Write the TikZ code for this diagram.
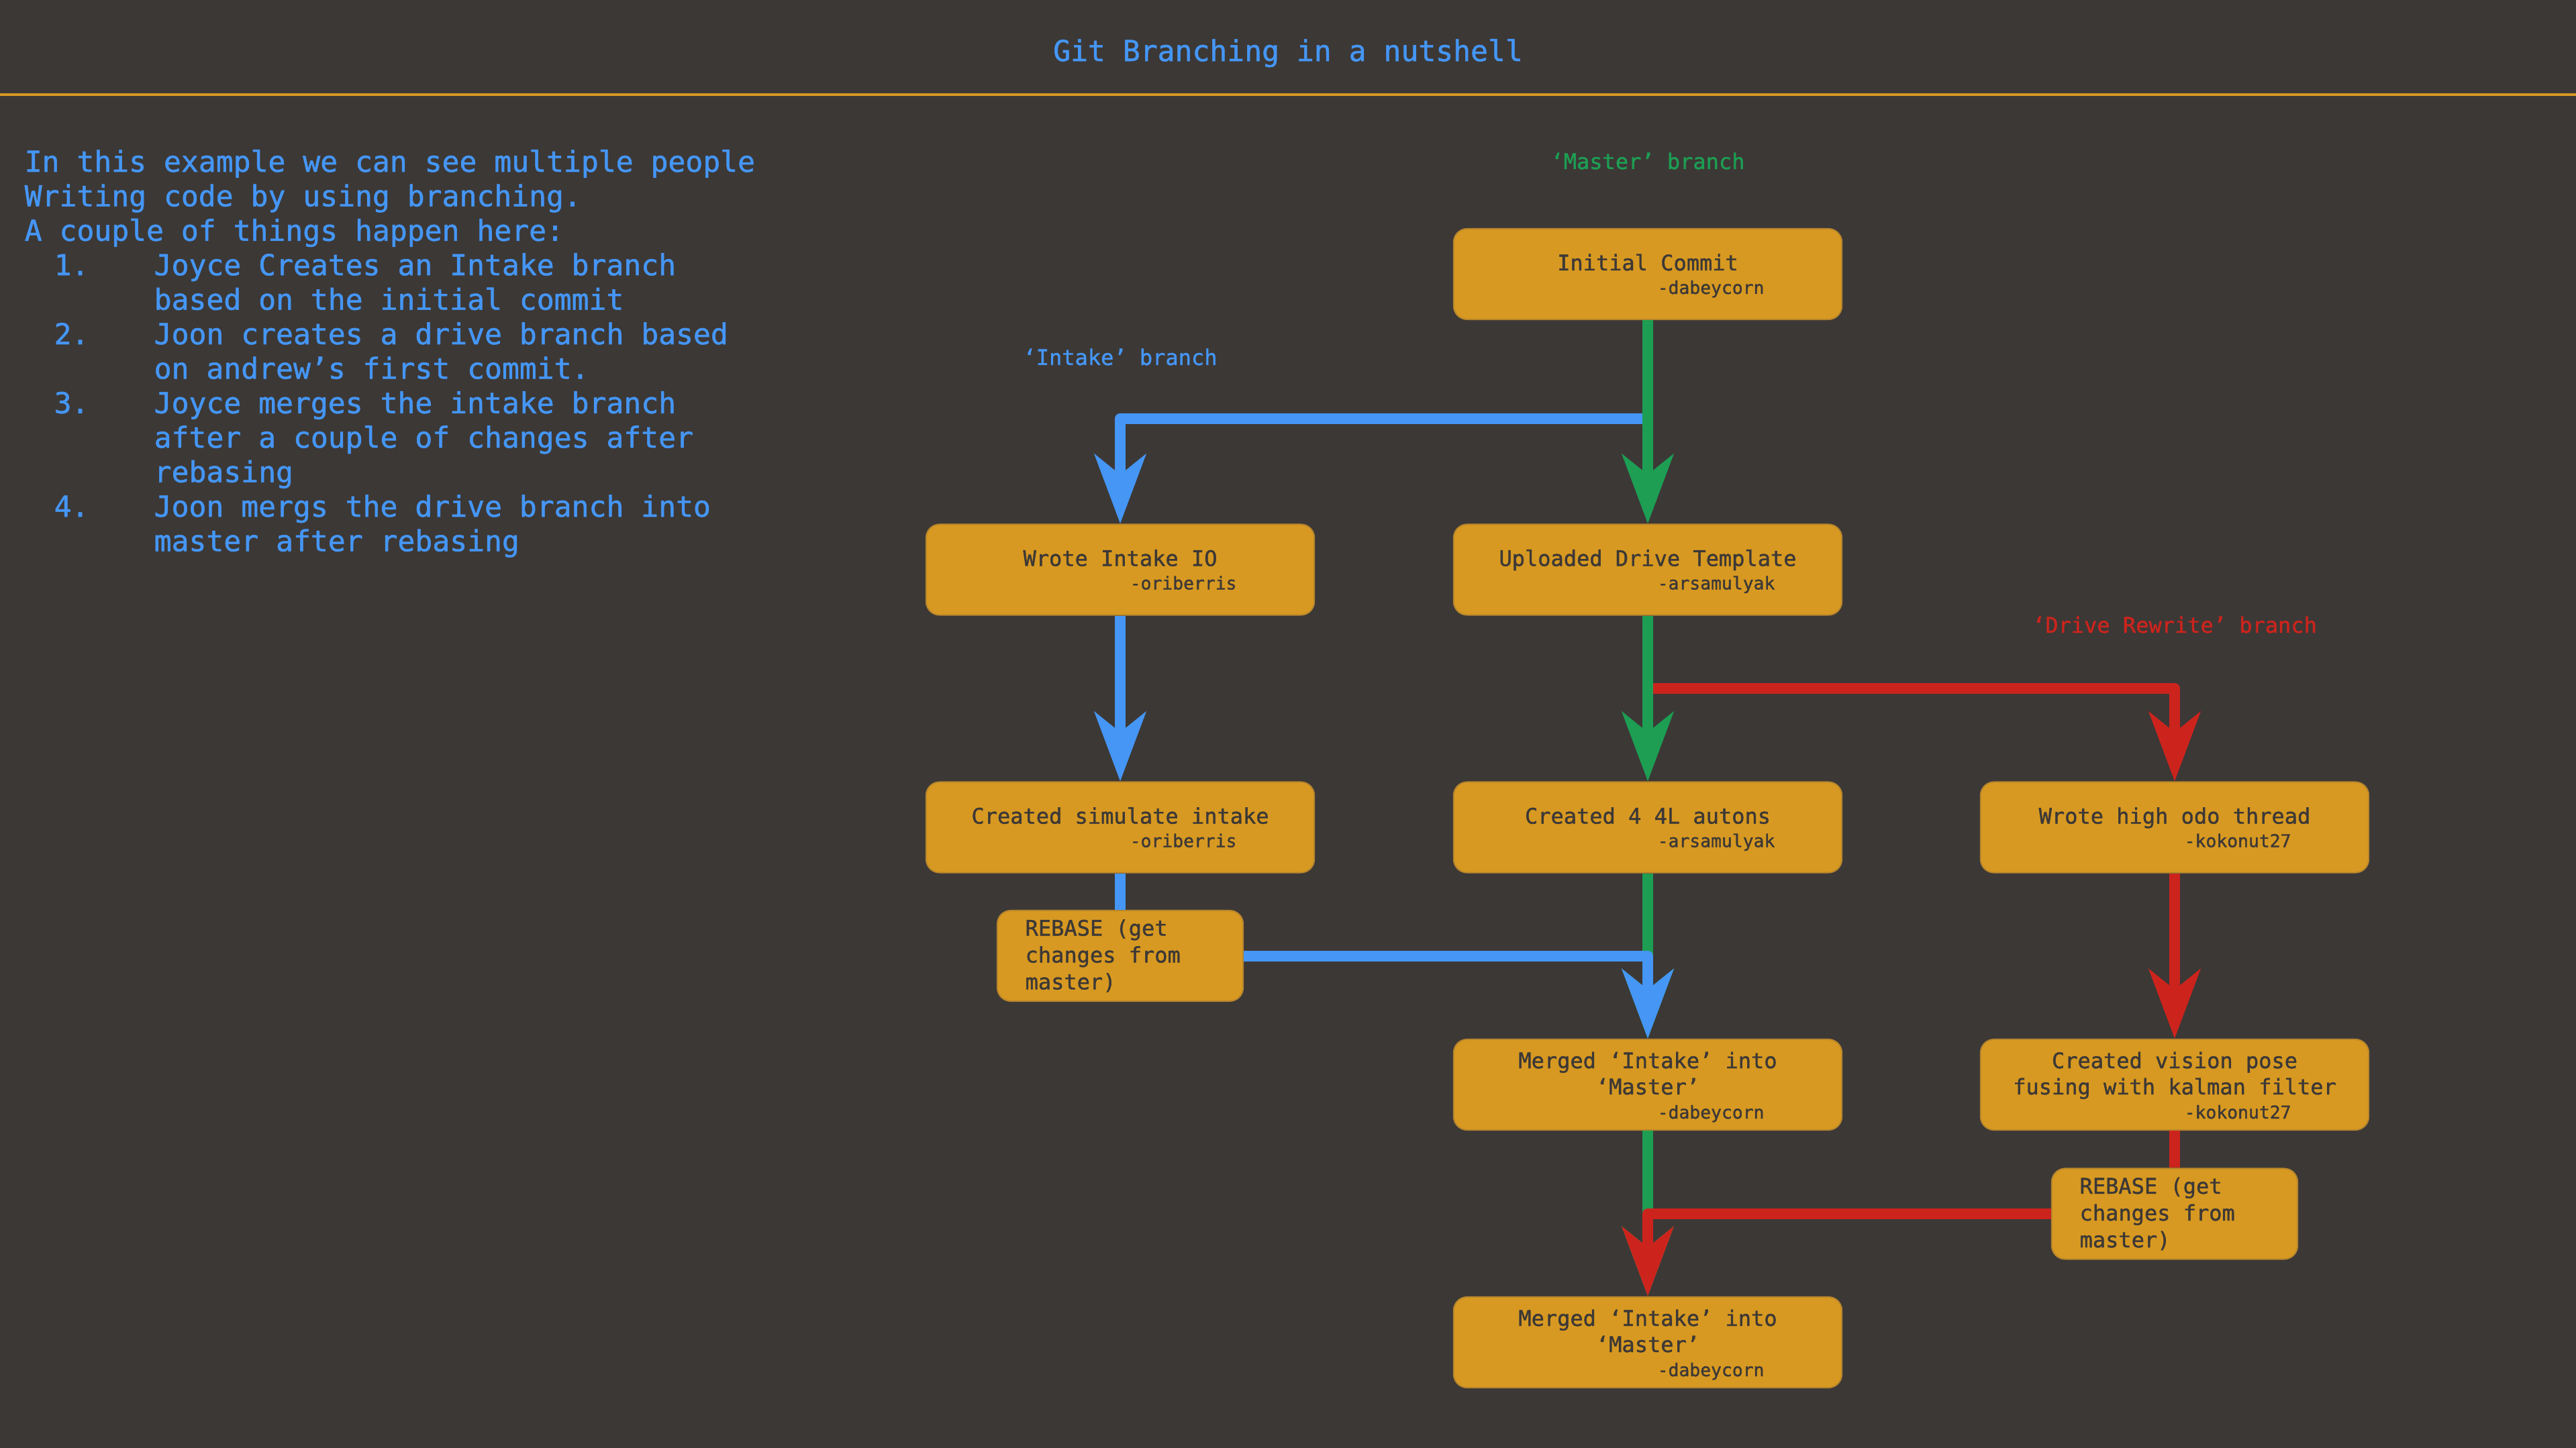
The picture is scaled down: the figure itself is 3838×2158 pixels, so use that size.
\documentclass[tikz,border=0pt]{standalone}
\usepackage{fontspec}
\setmainfont{DejaVu Sans Mono}[FakeBold=1.2]
\usetikzlibrary{arrows.meta,calc}
\definecolor{bg}{HTML}{3C3836}
\definecolor{gold}{HTML}{D79921}
\definecolor{boxedge}{HTML}{B8862C}
\definecolor{ink}{HTML}{3C3836}
\definecolor{bblue}{HTML}{4596F5}
\definecolor{bgreen}{HTML}{1D9E53}
\definecolor{bred}{HTML}{CC241D}
\newcommand\fsBig{\fontsize{12.24pt}{14.63pt}\selectfont}
\newcommand\fsMid{\fontsize{9.1pt}{11.38pt}\selectfont}
\newcommand\fsSmall{\fontsize{7.5pt}{9pt}\selectfont}
\begin{document}
\begin{tikzpicture}[x=0.01cm,y=-0.01cm,
  commit/.style={draw=boxedge, line width=0.02cm, fill=gold, rounded corners=0.2cm,
    minimum width=5.78cm, minimum height=1.35cm, inner sep=0pt},
  rebasebox/.style={commit, minimum width=3.66cm},
  maintxt/.style={anchor=base, inner sep=0pt, text=ink, font=\fsMid},
  authtxt/.style={anchor=base west, inner sep=0pt, text=ink, font=\fsSmall},
  rebtxt/.style={anchor=base west, inner sep=0pt, text=ink, font=\fsMid},
  lefttxt/.style={anchor=base west, inner sep=0pt, text=bblue, font=\fsBig},
  branchlbl/.style={anchor=base, inner sep=0pt, font=\fsMid},
  conn/.style={line width=0.16cm, line join=round},
  arr/.style={-{Stealth[length=1.03cm,width=0.76cm,inset=0.30cm]}}
]
\fill[bg] (0,0) rectangle (3838,2158);
\useasboundingbox (0,0) rectangle (3838,2158);

% title
\node[anchor=base, inner sep=0pt, text=bblue, font=\fsBig] (title) at (1919,91) {Git Branching in a nutshell};
\draw[gold, line width=0.04cm] (0,141) -- (3838,141);

% left text
\node[lefttxt] (l0) at (36,256.0) {In this example we can see multiple people};
\node[lefttxt] (l1) at (36,307.4) {Writing code by using branching.};
\node[lefttxt] (l2) at (36,358.8) {A couple of things happen here:};
\node[lefttxt] (n1) at (80,410.2) {1.};
\node[lefttxt] (l3) at (229,410.2) {Joyce Creates an Intake branch};
\node[lefttxt] (l4) at (229,461.6) {based on the initial commit};
\node[lefttxt] (n2) at (80,513.0) {2.};
\node[lefttxt] (l5) at (229,513.0) {Joon creates a drive branch based};
\node[lefttxt] (l6) at (229,564.4) {on andrew’s first commit.};
\node[lefttxt] (n3) at (80,615.8) {3.};
\node[lefttxt] (l7) at (229,615.8) {Joyce merges the intake branch};
\node[lefttxt] (l8) at (229,667.2) {after a couple of changes after};
\node[lefttxt] (l9) at (229,718.6) {rebasing};
\node[lefttxt] (n4) at (80,770.0) {4.};
\node[lefttxt] (l10) at (229,770.0) {Joon mergs the drive branch into};
\node[lefttxt] (l11) at (229,821.4) {master after rebasing};

% branch labels
\node[branchlbl, text=bgreen] (lblmaster) at (2455,252) {‘Master’ branch};
\node[branchlbl, text=bblue] (lblintake) at (1669,544) {‘Intake’ branch};
\node[branchlbl, text=bred] (lbldrive) at (3240,943) {‘Drive Rewrite’ branch};

% boxes
\node[commit] (ic) at (2455,408.5) {};
\node[commit] (wio) at (1669,849) {};
\node[commit] (udt) at (2455,849) {};
\node[commit] (csi) at (1669,1233) {};
\node[commit] (c4) at (2455,1233) {};
\node[commit] (who) at (3240,1233) {};
\node[commit] (m1) at (2455,1616.5) {};
\node[commit] (cvp) at (3240,1616.5) {};
\node[commit] (m2) at (2455,2000.5) {};
\node[rebasebox] (rb1) at (1669,1424.5) {};
\node[rebasebox] (rb2) at (3240,1809) {};

% box texts
\node[maintxt] (ic-t) at ($(ic)+(0,-5.5)$) {Initial Commit};
\node[authtxt] (ic-a) at ($(ic)+(14,29.5)$) {-dabeycorn};
\node[maintxt] (wio-t) at ($(wio)+(0,-5.5)$) {Wrote Intake IO};
\node[authtxt] (wio-a) at ($(wio)+(14,29.5)$) {-oriberris};
\node[maintxt] (udt-t) at ($(udt)+(0,-5.5)$) {Uploaded Drive Template};
\node[authtxt] (udt-a) at ($(udt)+(14,29.5)$) {-arsamulyak};
\node[maintxt] (csi-t) at ($(csi)+(0,-5.5)$) {Created simulate intake};
\node[authtxt] (csi-a) at ($(csi)+(14,29.5)$) {-oriberris};
\node[maintxt] (c4-t) at ($(c4)+(0,-5.5)$) {Created 4 4L autons};
\node[authtxt] (c4-a) at ($(c4)+(14,29.5)$) {-arsamulyak};
\node[maintxt] (who-t) at ($(who)+(0,-5.5)$) {Wrote high odo thread};
\node[authtxt] (who-a) at ($(who)+(14,29.5)$) {-kokonut27};
\node[maintxt] (m1-t1) at ($(m1)+(0,-24.5)$) {Merged ‘Intake’ into};
\node[maintxt] (m1-t2) at ($(m1)+(0,14.5)$) {‘Master’};
\node[authtxt] (m1-a) at ($(m1)+(14,50.5)$) {-dabeycorn};
\node[maintxt] (cvp-t1) at ($(cvp)+(0,-24.5)$) {Created vision pose};
\node[maintxt] (cvp-t2) at ($(cvp)+(0,14.5)$) {fusing with kalman filter};
\node[authtxt] (cvp-a) at ($(cvp)+(14,50.5)$) {-kokonut27};
\node[maintxt] (m2-t1) at ($(m2)+(0,-24.5)$) {Merged ‘Intake’ into};
\node[maintxt] (m2-t2) at ($(m2)+(0,14.5)$) {‘Master’};
\node[authtxt] (m2-a) at ($(m2)+(14,50.5)$) {-dabeycorn};
\node[rebtxt] (rb1-t1) at ($(rb1.west)+(42,-30)$) {REBASE (get};
\node[rebtxt] (rb1-t2) at ($(rb1.west)+(42,10)$) {changes from};
\node[rebtxt] (rb1-t3) at ($(rb1.west)+(42,50)$) {master)};
\node[rebtxt] (rb2-t1) at ($(rb2.west)+(42,-30)$) {REBASE (get};
\node[rebtxt] (rb2-t2) at ($(rb2.west)+(42,10)$) {changes from};
\node[rebtxt] (rb2-t3) at ($(rb2.west)+(42,50)$) {master)};

% split points on master line
\coordinate (bsplit) at (2455,624);
\coordinate (rsplit) at (2455,1026);

% connectors
\draw[conn, bblue, arr] (bsplit) -| (wio.north);
\draw[conn, bred, arr] (rsplit) -| (who.north);
\draw[conn, bgreen, arr] (ic.south) -- (udt.north);
\draw[conn, bgreen, arr] (udt.south) -- (c4.north);
\draw[conn, bblue, arr] (wio.south) -- (csi.north);
\draw[conn, bgreen, arr] (c4.south) -- (m1.north);
\draw[conn, bblue] (csi.south) -- (rb1.north);
\draw[conn, bblue, arr] (rb1.east) -| (m1.north);
\draw[conn, bred, arr] (who.south) -- (cvp.north);
\draw[conn, bred] (cvp.south) -- (rb2.north);
\draw[conn, bgreen, arr] (m1.south) -- (m2.north);
\draw[conn, bred, arr] (rb2.west) -| (m2.north);
\end{tikzpicture}
\end{document}
